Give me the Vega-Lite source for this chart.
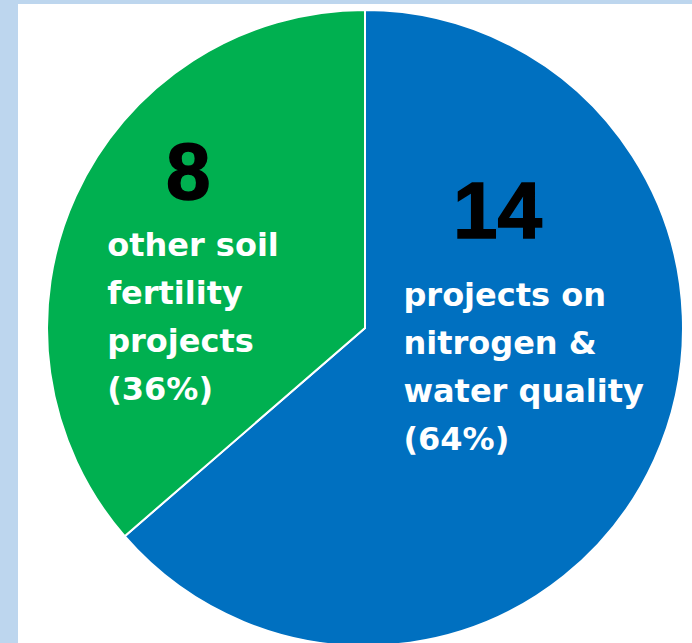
{
  "$schema": "https://vega.github.io/schema/vega-lite/v6.json",
  "width": 694,
  "height": 648,
  "padding": {"left": 18, "top": 4, "right": 0, "bottom": 0},
  "autosize": {"type": "pad"},
  "background": "#bdd6ee",
  "view": {"fill": "white", "stroke": null},
  "data": {
    "values": [
      {"category": "projects on nitrogen & water quality", "projects": 14, "label": "projects on\nnitrogen &\nwater quality\n(64%)"},
      {"category": "other soil fertility projects", "projects": 8, "label": "other soil\nfertility\nprojects\n(36%)"}
    ]
  },
  "encoding": {
    "theta": {"field": "projects", "type": "quantitative", "stack": true},
    "order": {"field": "projects", "type": "quantitative", "sort": "descending"}
  },
  "layer": [
    {
      "mark": {"type": "arc", "radius": 318, "stroke": "white", "strokeWidth": 2},
      "encoding": {
        "color": {
          "field": "category",
          "type": "nominal",
          "scale": {
            "domain": ["projects on nitrogen & water quality", "other soil fertility projects"],
            "range": ["#0070C0", "#00B050"]
          },
          "legend": null
        }
      }
    },
    {
      "mark": {"type": "text", "radius": 150, "dx": -4, "dy": -152, "font": "Liberation Sans", "fontSize": 80, "fontWeight": "bold", "color": "#000000", "align": "center", "baseline": "alphabetic", "stroke": "#000000", "strokeWidth": 1.5},
      "encoding": {
        "detail": {"field": "category", "type": "nominal"},
        "text": {"condition": {"test": "datum.projects == 14", "field": "projects", "type": "quantitative"}, "value": ""}
      }
    },
    {
      "mark": {"type": "text", "radius": 150, "dx": -98, "dy": -84, "font": "DejaVu Sans", "fontSize": 32, "fontWeight": "bold", "color": "#ffffff", "align": "left", "baseline": "alphabetic", "lineBreak": "\n", "lineHeight": 48},
      "encoding": {
        "detail": {"field": "category", "type": "nominal"},
        "text": {"condition": {"test": "datum.projects == 14", "field": "label", "type": "nominal"}, "value": ""}
      }
    },
    {
      "mark": {"type": "text", "radius": 190, "dx": -4, "dy": -50, "font": "Liberation Sans", "fontSize": 80, "fontWeight": "bold", "color": "#000000", "align": "center", "baseline": "alphabetic", "stroke": "#000000", "strokeWidth": 1.5},
      "encoding": {
        "detail": {"field": "category", "type": "nominal"},
        "text": {"condition": {"test": "datum.projects == 8", "field": "projects", "type": "quantitative"}, "value": ""}
      }
    },
    {
      "mark": {"type": "text", "radius": 190, "dx": -85, "dy": 7, "font": "DejaVu Sans", "fontSize": 32, "fontWeight": "bold", "color": "#ffffff", "align": "left", "baseline": "alphabetic", "lineBreak": "\n", "lineHeight": 48},
      "encoding": {
        "detail": {"field": "category", "type": "nominal"},
        "text": {"condition": {"test": "datum.projects == 8", "field": "label", "type": "nominal"}, "value": ""}
      }
    }
  ]
}
